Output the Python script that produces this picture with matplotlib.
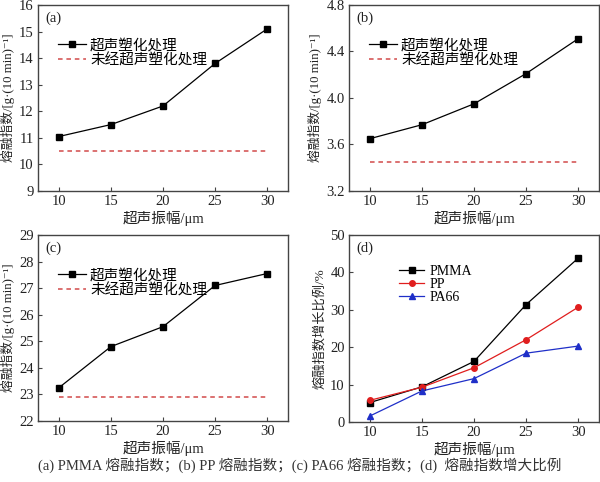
import matplotlib
matplotlib.use("Agg")
import matplotlib.pyplot as plt

plt.rcParams['font.family'] = ['Liberation Serif', 'Noto Sans CJK SC', 'DejaVu Serif']
plt.rcParams['axes.unicode_minus'] = False

# data
amplitude = [10, 15, 20, 25, 30]
pmma_mfi = [11.05, 11.5, 12.2, 13.8, 15.1]
pmma_base = 10.5
pp_mfi = [3.65, 3.77, 3.95, 4.21, 4.51]
pp_base = 3.45
pa66_mfi = [23.25, 24.8, 25.55, 27.1, 27.55]
pa66_base = 22.9
pmma_ratio = [5.2, 9.4, 16.2, 31.4, 43.8]
pp_ratio = [5.8, 9.3, 14.5, 22.0, 30.7]
pa66_ratio = [1.6, 8.3, 11.6, 18.4, 20.3]

xticks = [10, 15, 20, 25, 30]
yticks_a = [9, 10, 11, 12, 13, 14, 15, 16]
yticks_b = [3.2, 3.6, 4.0, 4.4, 4.8]
yticks_c = [22, 23, 24, 25, 26, 27, 28, 29]
yticks_d = [0, 10, 20, 30, 40, 50]

xlabel = "超声振幅/μm"
ylabel_mfi = "熔融指数/[g·(10 min)⁻¹]"
ylabel_ratio = "熔融指数增长比例/%"
lbl_treated = "超声塑化处理"
lbl_untreated = "未经超声塑化处理"
caption = "(a) PMMA 熔融指数；(b) PP 熔融指数；(c) PA66 熔融指数；(d)  熔融指数增大比例"

fig = plt.figure(figsize=(6, 4.82), dpi=100)
W, H = 600, 482

def make_ax(l, t, r, b):
    return fig.add_axes([l / W, 1 - b / H, (r - l) / W, (b - t) / H])

txt = '#222222'
red = '#d24a4a'

def style(ax, yticks, fmt=None):
    ax.set_xlim(8, 32)
    ax.set_xticks(xticks)
    ax.set_ylim(yticks[0], yticks[-1])
    ax.set_yticks(yticks)
    if fmt:
        ax.set_yticklabels([fmt.format(v) for v in yticks])
    ax.tick_params(direction='in', length=3, width=0.8, labelsize=10.5,
                   colors='#444444', labelcolor=txt, pad=3)
    for s in ax.spines.values():
        s.set_color('#444444')
        s.set_linewidth(1.0)
    ax.set_xlabel(xlabel, fontsize=10.5, color=txt, labelpad=2)

def mfi_panel(ax, vals, base, yticks, tag, fmt=None):
    ax.plot(amplitude, vals, color='black', marker='s', markersize=4,
            linewidth=0.9, label=lbl_treated)
    ax.plot([amplitude[0], amplitude[-1]], [base, base], color=red,
            linestyle=(0, (3, 2.5)), linewidth=1.1, label=lbl_untreated)
    style(ax, yticks, fmt)
    ax.set_ylabel(ylabel_mfi, fontsize=9.2, color=txt, labelpad=3)
    ax.text(0.03, 0.965, tag, transform=ax.transAxes, fontsize=10.5,
            va='top', ha='left', color=txt)
    ax.legend(loc='upper left', bbox_to_anchor=(0.08, 0.82), frameon=False,
              fontsize=10.5, handlelength=1.9, handletextpad=0.3,
              labelspacing=0.05, borderaxespad=0, borderpad=0)

ax_a = make_ax(38, 5, 288, 191)
mfi_panel(ax_a, pmma_mfi, pmma_base, yticks_a, "(a)")

ax_b = make_ax(349, 5, 599, 191)
mfi_panel(ax_b, pp_mfi, pp_base, yticks_b, "(b)", fmt="{:.1f}")

ax_c = make_ax(38, 235, 288, 421)
mfi_panel(ax_c, pa66_mfi, pa66_base, yticks_c, "(c)")

ax_d = make_ax(349, 235, 599, 422)
ax_d.plot(amplitude, pmma_ratio, color='black', marker='s', markersize=4,
          linewidth=0.9, label="PMMA")
ax_d.plot(amplitude, pp_ratio, color='#e01e1e', marker='o', markersize=4,
          linewidth=0.9, label="PP")
ax_d.plot(amplitude, pa66_ratio, color='#1f2fc8', marker='^', markersize=4.5,
          linewidth=0.9, label="PA66")
style(ax_d, yticks_d)
ax_d.set_ylabel(ylabel_ratio, fontsize=9.5, color=txt, labelpad=3)
ax_d.text(0.03, 0.965, "(d)", transform=ax_d.transAxes, fontsize=10.5,
          va='top', ha='left', color=txt)
ax_d.legend(loc='upper left', bbox_to_anchor=(0.2, 0.84), frameon=False,
            fontsize=10, handlelength=1.8, handletextpad=0.4,
            labelspacing=0.0, borderaxespad=0, borderpad=0)

fig.text(0.5, 1 - 465 / H, caption, ha='center', va='center',
         fontsize=10.5, color='#333333')

fig.savefig("out.png", dpi=100)
